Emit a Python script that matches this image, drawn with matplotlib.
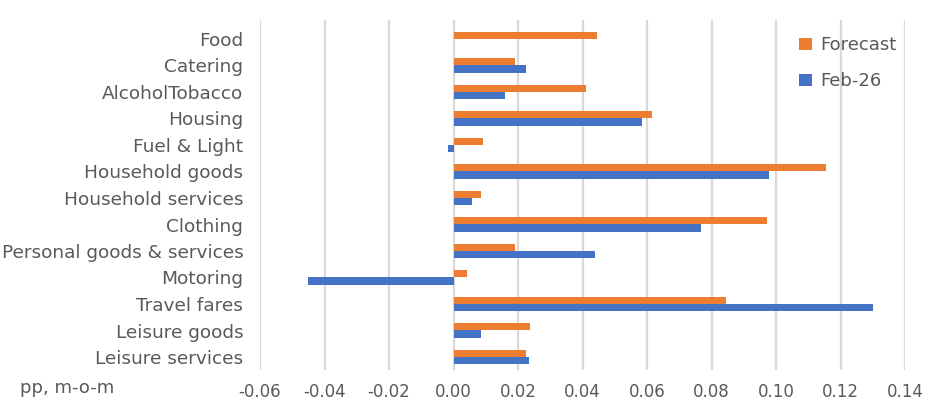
import matplotlib.pyplot as plt
import numpy as np

# ========== Data ==========
categories = ["Food", "Catering", "AlcoholTobacco", "Housing", "Fuel & Light",
              "Household goods", "Household services", "Clothing",
              "Personal goods & services", "Motoring", "Travel fares",
              "Leisure goods", "Leisure services"]
forecast = [0.0446, 0.0192, 0.0412, 0.0614, 0.0093, 0.1155, 0.0084, 0.0972,
            0.0192, 0.0043, 0.0845, 0.0238, 0.0226]
feb26 = [0.0, 0.0226, 0.0161, 0.0583, -0.0018, 0.0978, 0.0056, 0.0768,
         0.0440, -0.0452, 0.1300, 0.0084, 0.0235]
xticks = [-0.06, -0.04, -0.02, 0.00, 0.02, 0.04, 0.06, 0.08, 0.10, 0.12, 0.14]

ORANGE = "#ED7D31"
BLUE = "#4472C4"
GRID = "#D9D9D9"
TEXT = "#595959"

plt.rcParams['font.family'] = ['DejaVu Sans']

fig = plt.figure(figsize=(9.37, 4.11), dpi=100)
ax = fig.add_axes([260 / 937, 41 / 411, 645 / 937, 350 / 411])

y = np.arange(len(categories))
h = 0.27
ax.barh(y - h / 2, forecast, height=h, color=ORANGE, label="Forecast", zorder=3)
ax.barh(y + h / 2, feb26, height=h, color=BLUE, label="Feb-26", zorder=3)

ax.set_xlim(-0.06, 0.14)
ax.set_ylim(12 + 13 / 26.5, -19 / 26.5)
ax.set_xticks(xticks)
ax.set_xticklabels([f"{v:.2f}" for v in xticks], fontsize=12, color=TEXT)
ax.set_yticks(y)
ax.set_yticklabels(categories, fontsize=13.3, color=TEXT)
ax.tick_params(length=0)
ax.tick_params(axis="x", pad=9)
ax.tick_params(axis="y", pad=12)
ax.grid(axis="x", color=GRID, linewidth=1.6, zorder=0)
for s in ax.spines.values():
    s.set_visible(False)

ax.legend(loc="upper right", bbox_to_anchor=(1.012, 1.0), frameon=False,
          fontsize=13, labelcolor=TEXT, handlelength=0.7, handleheight=0.7,
          labelspacing=1.0, handletextpad=0.45)

fig.text(20 / 937, 1 - 388 / 411, "pp, m-o-m", fontsize=13, color=TEXT,
         va="center", ha="left")

fig.savefig("out.png", dpi=100)
